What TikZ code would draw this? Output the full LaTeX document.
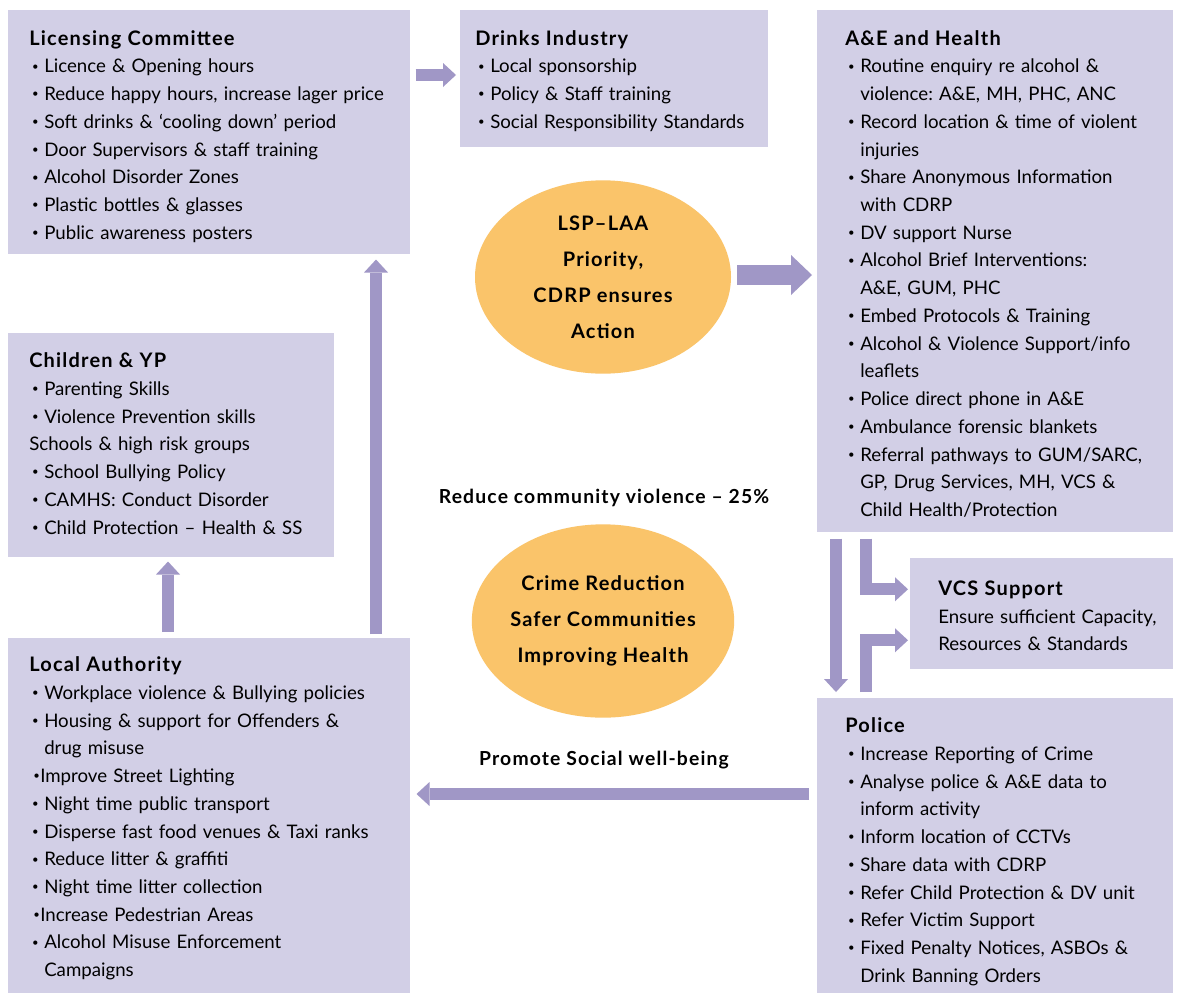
\documentclass[tikz,border=0pt]{standalone}
\usepackage{fontspec}
\setmainfont{Lato}
\newfontfamily\wideface{Lato}[LetterSpace=6, Ligatures=TeX]
\usetikzlibrary{shapes.geometric, arrows.meta, positioning, calc}
\frenchspacing

\definecolor{boxlilac}{HTML}{D2CFE6}
\definecolor{arrowlilac}{HTML}{A097C6}
\definecolor{ovalorange}{HTML}{FAC46A}

% bullet lines inside the panels
\newcommand{\dotmark}{\raisebox{2pt}{\fontsize{8.5}{8.5}\selectfont\textbullet}}
\newcommand{\ttl}[1]{{\wideface\bfseries\fontsize{15}{20.8}\selectfont #1}}
\newcommand{\itm}[1]{\par\makebox[11.25pt][l]{\hspace{2.2pt}\dotmark}#1}
\newcommand{\itmtight}[1]{\par\makebox[8.25pt][r]{\dotmark\hspace{0.3pt}}#1}
\newcommand{\cnt}[1]{\par\hspace*{11.25pt}#1}
\newcommand{\pln}[1]{\par #1}

\begin{document}
\begin{tikzpicture}[
        x=0.75pt, y=-0.75pt,
        panel/.style={rectangle, fill=boxlilac, inner sep=0pt, anchor=north west},
        paneltext/.style={anchor=north west, inner sep=0pt, text width=300pt, align=left,
            font=\fontsize{14}{20.8}\selectfont, execute at begin node=\setlength{\parindent}{0pt}},
        oval/.style={ellipse, fill=ovalorange, minimum width=192pt, minimum height=145pt, inner sep=0pt,
            align=center, font=\wideface\bfseries\fontsize{15}{27}\selectfont},
        caption/.style={inner sep=0pt, font=\wideface\bfseries\fontsize{14.5}{16}\selectfont},
        flow/.style={draw=arrowlilac, line width=9pt, -{Triangle[width=18pt, length=9.75pt, line width=0pt]}},
        bigflow/.style={draw=arrowlilac, line width=15pt, -{Triangle[width=30pt, length=15.75pt, line width=0pt]}}
    ]

        \path[use as bounding box, fill=white] (0,0) rectangle (1178,993);

        % ================= PANELS =================
        \node[panel, minimum width=301.5pt, minimum height=183pt] (lic) at (8,10) {};
        \node[panel, minimum width=231pt, minimum height=102.75pt] (drinks) at (460,10) {};
        \node[panel, minimum width=267pt, minimum height=391.5pt] (aeh) at (817,10) {};
        \node[panel, minimum width=244.5pt, minimum height=168pt] (kids) at (8,333) {};
        \node[panel, minimum width=301.5pt, minimum height=266.25pt] (la) at (8,638) {};
        \node[panel, minimum width=197.25pt, minimum height=83.25pt] (vcs) at (910,558) {};
        \node[panel, minimum width=267pt, minimum height=221.25pt] (police) at (817,698) {};

        % ================= PANEL TEXTS =================
        \node[paneltext] (lictext) at ($(lic.north west)+(21,20)$) {\ttl{Licensing Committee}
            \itm{Licence \& Opening hours}
            \itm{Reduce happy hours, increase lager price}
            \itm{Soft drinks \& `cooling down' period}
            \itm{Door Supervisors \& staff training}
            \itm{Alcohol Disorder Zones}
            \itm{Plastic bottles \& glasses}
            \itm{Public awareness posters}};

        \node[paneltext] (drinkstext) at ($(drinks.north west)+(15,20)$) {\ttl{Drinks Industry}
            \itm{Local sponsorship}
            \itm{Policy \& Staff training}
            \itm{Social Responsibility Standards}};

        \node[paneltext] (aehtext) at ($(aeh.north west)+(28,20)$) {\ttl{A\&E and Health}
            \itm{Routine enquiry re alcohol \&}
            \cnt{violence: A\&E, MH, PHC, ANC}
            \itm{Record location \& time of violent}
            \cnt{injuries}
            \itm{Share Anonymous Information}
            \cnt{with CDRP}
            \itm{DV support Nurse}
            \itm{Alcohol Brief Interventions:}
            \cnt{A\&E, GUM, PHC}
            \itm{Embed Protocols \& Training}
            \itm{Alcohol \& Violence Support/info}
            \cnt{leaflets}
            \itm{Police direct phone in A\&E}
            \itm{Ambulance forensic blankets}
            \itm{Referral pathways to GUM/SARC,}
            \cnt{GP, Drug Services, MH, VCS \&}
            \cnt{Child Health/Protection}};

        \node[paneltext] (kidstext) at ($(kids.north west)+(21,19.5)$) {\ttl{Children \& YP}
            \itm{Parenting Skills}
            \itm{Violence Prevention skills}
            \pln{Schools \& high risk groups}
            \itm{School Bullying Policy}
            \itm{CAMHS: Conduct Disorder}
            \itm{Child Protection -- Health \& SS}};

        \node[paneltext] (latext) at ($(la.north west)+(21,18.5)$) {\ttl{Local Authority}
            \itm{Workplace violence \& Bullying policies}
            \itm{Housing \& support for Offenders \&}
            \cnt{drug misuse}
            \itmtight{Improve Street Lighting}
            \itm{Night time public transport}
            \itm{Disperse fast food venues \& Taxi ranks}
            \itm{Reduce litter \& graffiti}
            \itm{Night time litter collection}
            \itmtight{Increase Pedestrian Areas}
            \itm{Alcohol Misuse Enforcement}
            \cnt{Campaigns}};

        \node[paneltext] (vcstext) at ($(vcs.north west)+(28,22.5)$) {\ttl{VCS Support}
            \pln{Ensure sufficient Capacity,}
            \pln{Resources \& Standards}};

        \node[paneltext] (policetext) at ($(police.north west)+(28,19.5)$) {\ttl{Police}
            \itm{Increase Reporting of Crime}
            \itm{Analyse police \& A\&E data to}
            \cnt{inform activity}
            \itm{Inform location of CCTVs}
            \itm{Share data with CDRP}
            \itm{Refer Child Protection \& DV unit}
            \itm{Refer Victim Support}
            \itm{Fixed Penalty Notices, ASBOs \&}
            \cnt{Drink Banning Orders}};

        % ================= CENTRE =================
        \node[oval] (priority) at (603,277) {LSP\textendash LAA\\Priority,\\CDRP ensures\\Action};
        \node[oval] (aims) at (603,621) {Crime Reduction\\Safer Communities\\Improving Health};

        \node[caption] (target) at (604,498) {Reduce community violence \textendash\ 25\%};
        \node[caption] (wellbeing) at (604,760) {Promote Social well-being};

        % ================= ARROWS =================
        \path[flow] ($(lic.north east)+(5,65)$) -- ($(drinks.north west)+(-4,65)$);
        \path[bigflow] ($(priority.east)+(6,-2)$) -- ($(priority.east -| aeh.west)+(-5,-2)$);
        \path[flow] ($(aeh.south west)+(19,6)$) -- ($(police.north west)+(19,-6)$);
        \path[flow] ($(aeh.south west)+(49,6)$) |- ($(vcs.west)+(-2,-24.5)$);
        \path[flow] ($(police.north west)+(49,-6)$) |- ($(vcs.west)+(-2,26.5)$);
        \path[flow] ($(police.north west)+(-8,96)$) -- ($(police.north west -| la.east)+(6,96)$);
        \path[flow] ($(la.north west)+(368,-4)$) -- ($(lic.south west)+(368,5)$);
        \path[flow] ($(la.north west)+(160,-6)$) -- ($(kids.south west)+(160,4)$);

    \end{tikzpicture}
\end{document}
